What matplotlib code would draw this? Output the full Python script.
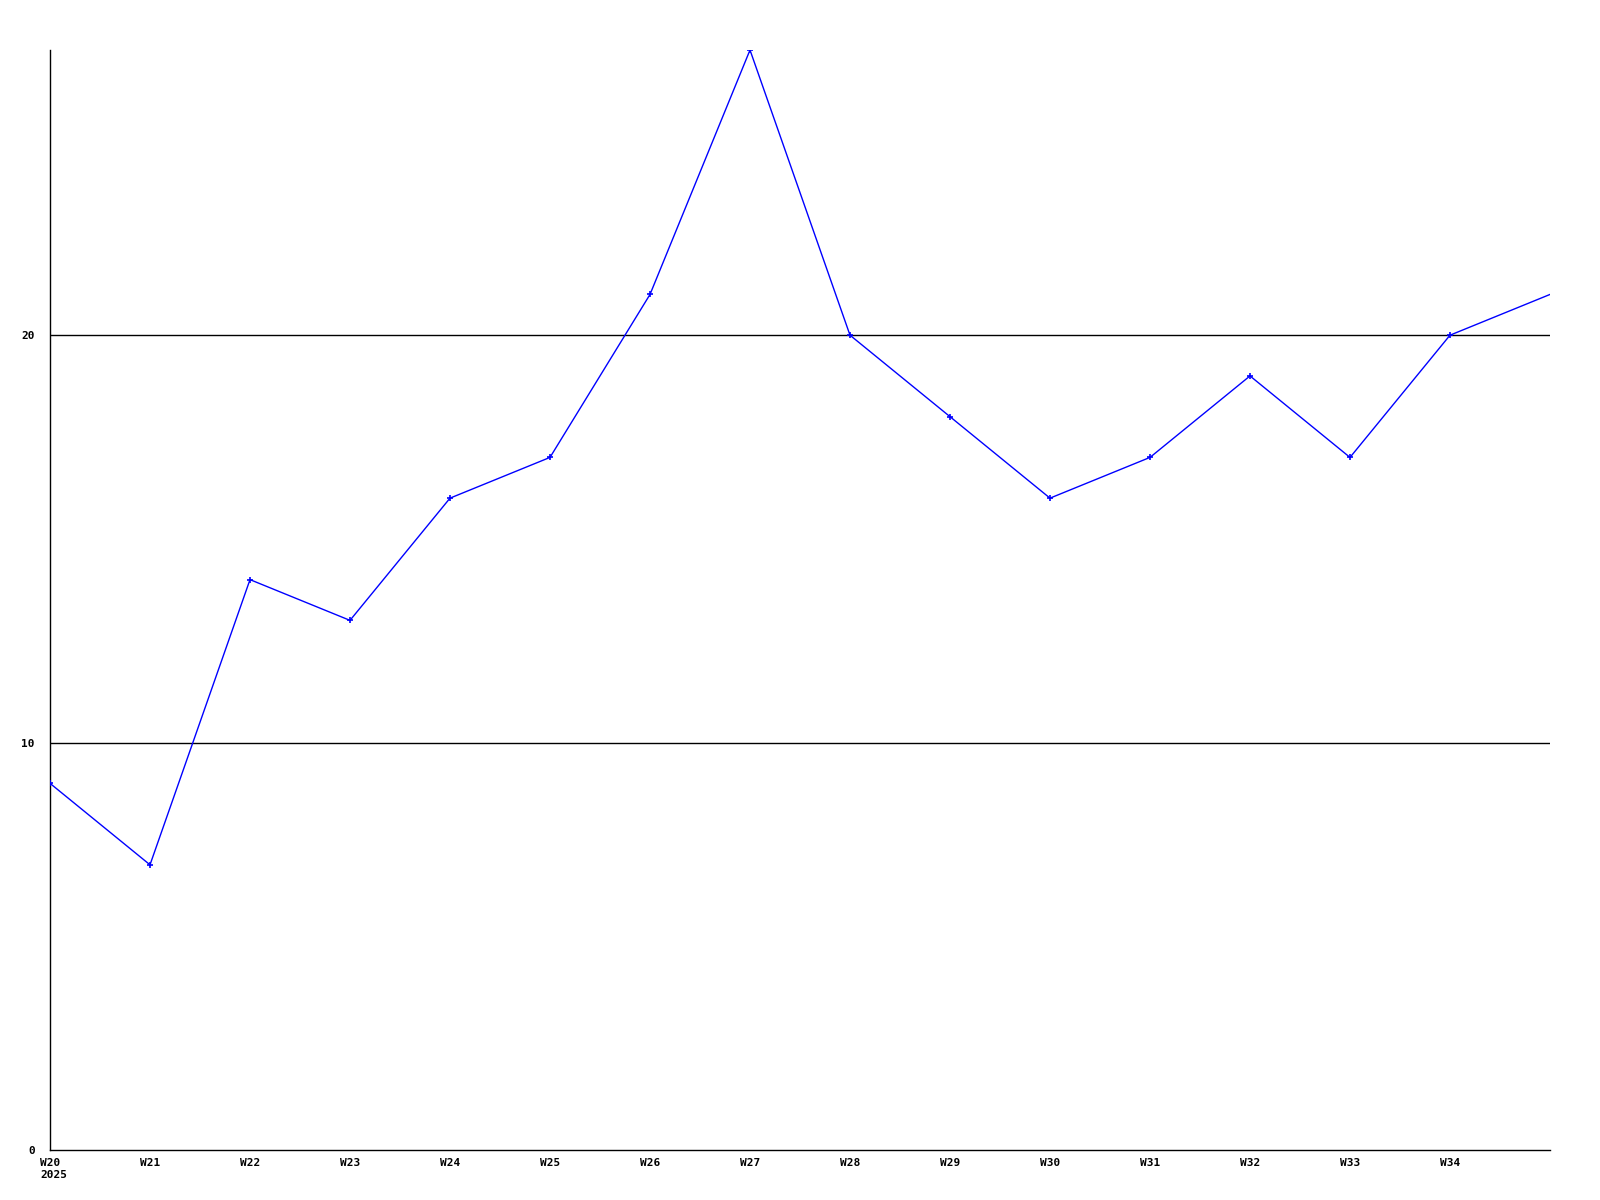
import matplotlib
matplotlib.use("Agg")
import matplotlib.pyplot as plt

weeks = ["W20", "W21", "W22", "W23", "W24", "W25", "W26", "W27", "W28",
         "W29", "W30", "W31", "W32", "W33", "W34", "W35"]
values = [9, 7, 14, 13, 16, 17, 21, 27, 20, 18, 16, 17, 19, 17, 20, 21]
tick_labels = ["W20", "W21", "W22", "W23", "W24", "W25", "W26", "W27",
               "W28", "W29", "W30", "W31", "W32", "W33", "W34"]
year_label = "2025"
y_ticks = [0, 10, 20]

font = dict(family="DejaVu Sans Mono", fontweight="bold", fontsize=8)

fig = plt.figure(figsize=(16, 12), dpi=100)
ax = fig.add_axes([50/1600, 50/1200, 1500/1600, 1100/1200])

x = list(range(len(weeks)))
ax.plot(x, values, color="#0000ff", lw=1, marker="+", ms=4, mew=1.2,
        markevery=list(range(len(weeks) - 1)), zorder=3)

for yv in y_ticks[1:]:
    ax.axhline(yv, color="black", lw=1, zorder=2)

ax.set_xlim(0, len(weeks) - 1)
ax.set_ylim(0, 27)
ax.set_xticks(list(range(len(tick_labels))))
ax.set_xticklabels(tick_labels, **font)
ax.set_yticks(y_ticks)
ax.set_yticklabels([str(v) for v in y_ticks], **font)
ax.tick_params(length=0, pad=6)
ax.tick_params(axis="y", pad=11)

ax.annotate(year_label, xy=(0, 0), xycoords=("data", "axes fraction"),
            xytext=(-10, -20), textcoords="offset pixels",
            ha="left", va="top", **font)

for s in ["top", "right"]:
    ax.spines[s].set_visible(False)
for s in ["left", "bottom"]:
    ax.spines[s].set_linewidth(1)

fig.savefig("out.png", dpi=100)
